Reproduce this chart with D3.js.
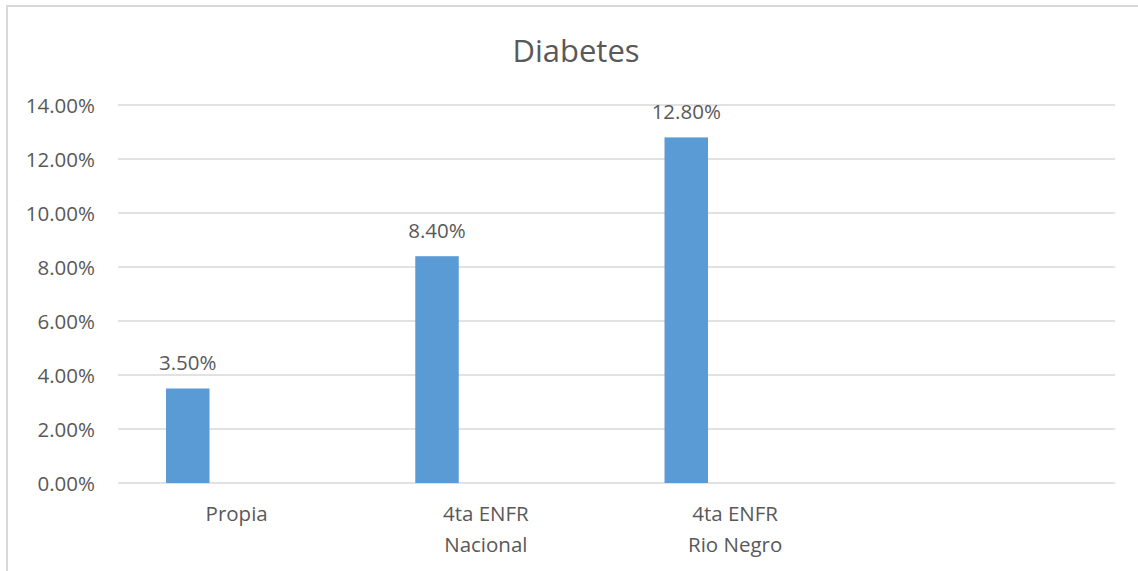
<!DOCTYPE html>
<html>
<head>
<meta charset="utf-8">
<script src="https://cdn.jsdelivr.net/npm/d3@7"></script>
<style>
  html, body { margin: 0; padding: 0; background: #fff; }
  svg { display: block; }
  text { font-family: "Open Sans", sans-serif; fill: #595959; }
</style>
</head>
<body>
<svg id="chart" width="1138" height="571"></svg>
<script>
// Chart data
const title = "Diabetes";
const categories = [["Propia"], ["4ta ENFR", "Nacional"], ["4ta ENFR", "Rio Negro"], [""]];
const values = [0.035, 0.084, 0.128, null];
const yTicks = [0, 0.02, 0.04, 0.06, 0.08, 0.10, 0.12, 0.14];

const W = 1138, H = 571;
const plot = { left: 118, right: 1115, top: 105, bottom: 483 };
const fontSize = "20.5px";

const svg = d3.select("#chart");

// Chart frame
svg.append("rect")
  .attr("x", 7).attr("y", 6)
  .attr("width", W + 10).attr("height", H + 10)
  .attr("fill", "none").attr("stroke", "#d9d9d9").attr("stroke-width", 2);

const keys = categories.map((c, i) => i);
const x = d3.scaleBand().domain(keys).range([plot.left, plot.right]).paddingInner(0).paddingOuter(0);
const y = d3.scaleLinear().domain([0, 0.14]).range([plot.bottom, plot.top]);
const fmt = d3.format(".2%");

// Gridlines
svg.append("g").selectAll("line").data(yTicks).join("line")
  .attr("x1", plot.left).attr("x2", plot.right)
  .attr("y1", d => y(d)).attr("y2", d => y(d))
  .attr("stroke", "#d9d9d9").attr("stroke-width", 1.5);

// Y-axis labels
const yAxis = d3.axisLeft(y).tickValues(yTicks).tickFormat(fmt).tickSize(0).tickPadding(23);
const gy = svg.append("g").attr("transform", `translate(${plot.left},0)`).call(yAxis);
gy.select(".domain").remove();
gy.selectAll("text")
  .style("font-family", "'Open Sans', sans-serif")
  .style("font-size", fontSize)
  .attr("fill", "#595959")
  .attr("dy", "0.36em");

// Bars (bar sits in the left part of each category slot)
const barW = x.bandwidth() * 0.1745;
const barOff = x.bandwidth() * 0.1926;
const data = keys.map(k => ({ k, v: values[k] })).filter(d => d.v != null);

svg.append("g").selectAll("rect").data(data).join("rect")
  .attr("x", d => x(d.k) + barOff)
  .attr("width", barW)
  .attr("y", d => y(d.v))
  .attr("height", d => y(0) - y(d.v))
  .attr("fill", "#5b9bd5");

// Value labels
svg.append("g").selectAll("text").data(data).join("text")
  .attr("x", d => x(d.k) + barOff + barW / 2)
  .attr("y", d => y(d.v) - 18.5)
  .attr("text-anchor", "middle")
  .style("font-size", fontSize)
  .text(d => fmt(d.v));

// Category labels
const cat = svg.append("g").selectAll("text").data(keys).join("text")
  .attr("x", k => x(k) + x.bandwidth() / 2 - 6)
  .attr("y", 521)
  .attr("text-anchor", "middle")
  .style("font-size", fontSize);
cat.selectAll("tspan").data(k => categories[k].map(t => ({ t, k }))).join("tspan")
  .attr("x", d => x(d.k) + x.bandwidth() / 2 - 6)
  .attr("dy", (d, i) => i === 0 ? 0 : 31)
  .text(d => d.t);

// Title
svg.append("text")
  .attr("x", 576).attr("y", 62)
  .attr("text-anchor", "middle")
  .style("font-size", "31px")
  .text(title);
</script>
</body>
</html>
